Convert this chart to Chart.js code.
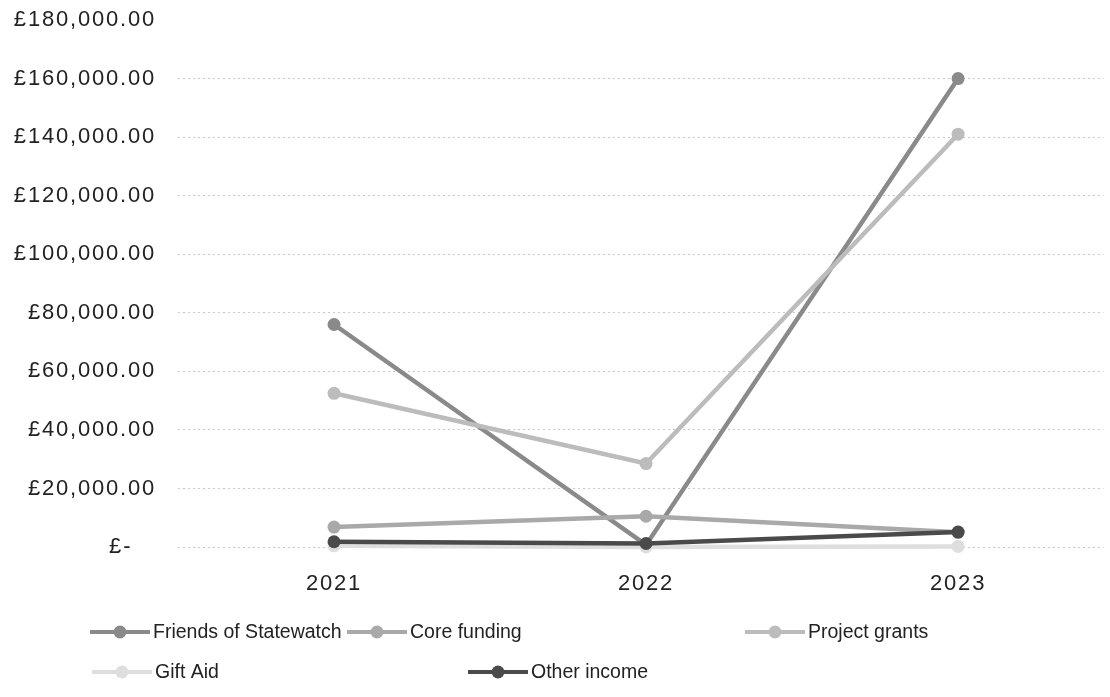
<!DOCTYPE html>
<html>
<head>
<meta charset="utf-8">
<script src="https://cdn.jsdelivr.net/npm/chart.js@4.4.0/dist/chart.umd.min.js"></script>
<style>
  body { margin: 0; background: #fff; }
  #wrap { width: 1110px; height: 697px; }
</style>
</head>
<body>
<div id="wrap"><canvas id="incomeChart"></canvas></div>
<script>
const years = [2021, 2022, 2023]
const friends = [76000, 700, 160000]
const coreFunding = [6800, 10500, 5000]
const projectGrants = [52500, 28500, 141000]
const giftAid = [400, 0, 200]
const otherIncome = [1800, 1200, 5100]
const yTicks = [0, 20000, 40000, 60000, 80000, 100000, 120000, 140000, 160000, 180000]

const names = ['Friends of Statewatch', 'Core funding', 'Project grants', 'Gift Aid', 'Other income']
const colours = ['#8a8a8a', '#a9a9a9', '#bcbcbc', '#dedede', '#4a4a4a']
const series = [friends, coreFunding, projectGrants, giftAid, otherIncome]

// where each legend entry sits (row layout like the original)
const legendSpots = [[90, 632], [347, 632], [745, 632], [92, 672], [468, 672]]

function money(v) {
  if (v === 0) return '£-   '
  return '£' + v.toLocaleString('en-GB', { minimumFractionDigits: 2, maximumFractionDigits: 2 })
}

const spacing = {
  id: 'spacing',
  beforeDraw(chart) { chart.ctx.letterSpacing = '1.8px' }
}

const sideLegend = {
  id: 'sideLegend',
  afterDraw(chart) {
    const ctx = chart.ctx
    ctx.save()
    ctx.letterSpacing = '0px'
    ctx.font = '19.5px "Liberation Sans", Arial, sans-serif'
    ctx.textBaseline = 'middle'
    ctx.textAlign = 'left'
    chart.data.datasets.forEach((ds, i) => {
      const [x, y] = legendSpots[i]
      ctx.strokeStyle = ds.borderColor
      ctx.lineWidth = 4
      ctx.beginPath()
      ctx.moveTo(x, y)
      ctx.lineTo(x + 60, y)
      ctx.stroke()
      ctx.fillStyle = ds.borderColor
      ctx.beginPath()
      ctx.arc(x + 30, y, 6.5, 0, Math.PI * 2)
      ctx.fill()
      ctx.fillStyle = '#222'
      ctx.fillText(ds.label, x + 63, y + 1)
    })
    ctx.restore()
  }
}

const datasets = series.map((vals, i) => ({
  label: names[i],
  data: vals.map((v, j) => ({ x: years[j], y: v })),
  borderColor: colours[i],
  backgroundColor: colours[i],
  borderWidth: 4.5,
  pointRadius: 6.5,
  pointHoverRadius: 6.5,
  pointBorderWidth: 0,
  tension: 0,
  clip: false,
  order: 5 - i
}))

new Chart(document.getElementById('incomeChart'), {
  type: 'line',
  data: { datasets: datasets },
  options: {
    responsive: true,
    maintainAspectRatio: false,
    animation: false,
    layout: { padding: { top: 20, right: 2, bottom: 84, left: 0 } },
    plugins: { legend: { display: false }, tooltip: { enabled: false } },
    scales: {
      x: {
        type: 'linear',
        min: 2020.5,
        max: 2023.466,
        afterBuildTicks(scale) { scale.ticks = years.map(v => ({ value: v })) },
        afterFit(scale) {
          scale.height = 66
          scale.paddingLeft = 0
          scale.paddingRight = 0
        },
        grid: { display: false },
        border: { display: false },
        ticks: {
          padding: 16,
          color: '#222',
          font: { family: '"Liberation Sans", Arial, sans-serif', size: 22 },
          callback: v => String(v)
        }
      },
      y: {
        min: 0,
        max: 180000,
        afterBuildTicks(scale) { scale.ticks = yTicks.map(v => ({ value: v })) },
        afterFit(scale) {
          scale.width = 178
          scale.paddingTop = 0
          scale.paddingBottom = 0
        },
        border: { display: false, dash: [2, 3] },
        grid: {
          drawTicks: false,
          color: ctx => ctx.tick && ctx.tick.value === 180000 ? 'rgba(0,0,0,0)' : '#c8c8c8',
          lineWidth: 1
        },
        ticks: {
          padding: 22,
          color: '#222',
          font: { family: '"Liberation Sans", Arial, sans-serif', size: 22 },
          callback: v => money(v)
        }
      }
    }
  },
  plugins: [spacing, sideLegend]
})
</script>
</body>
</html>
